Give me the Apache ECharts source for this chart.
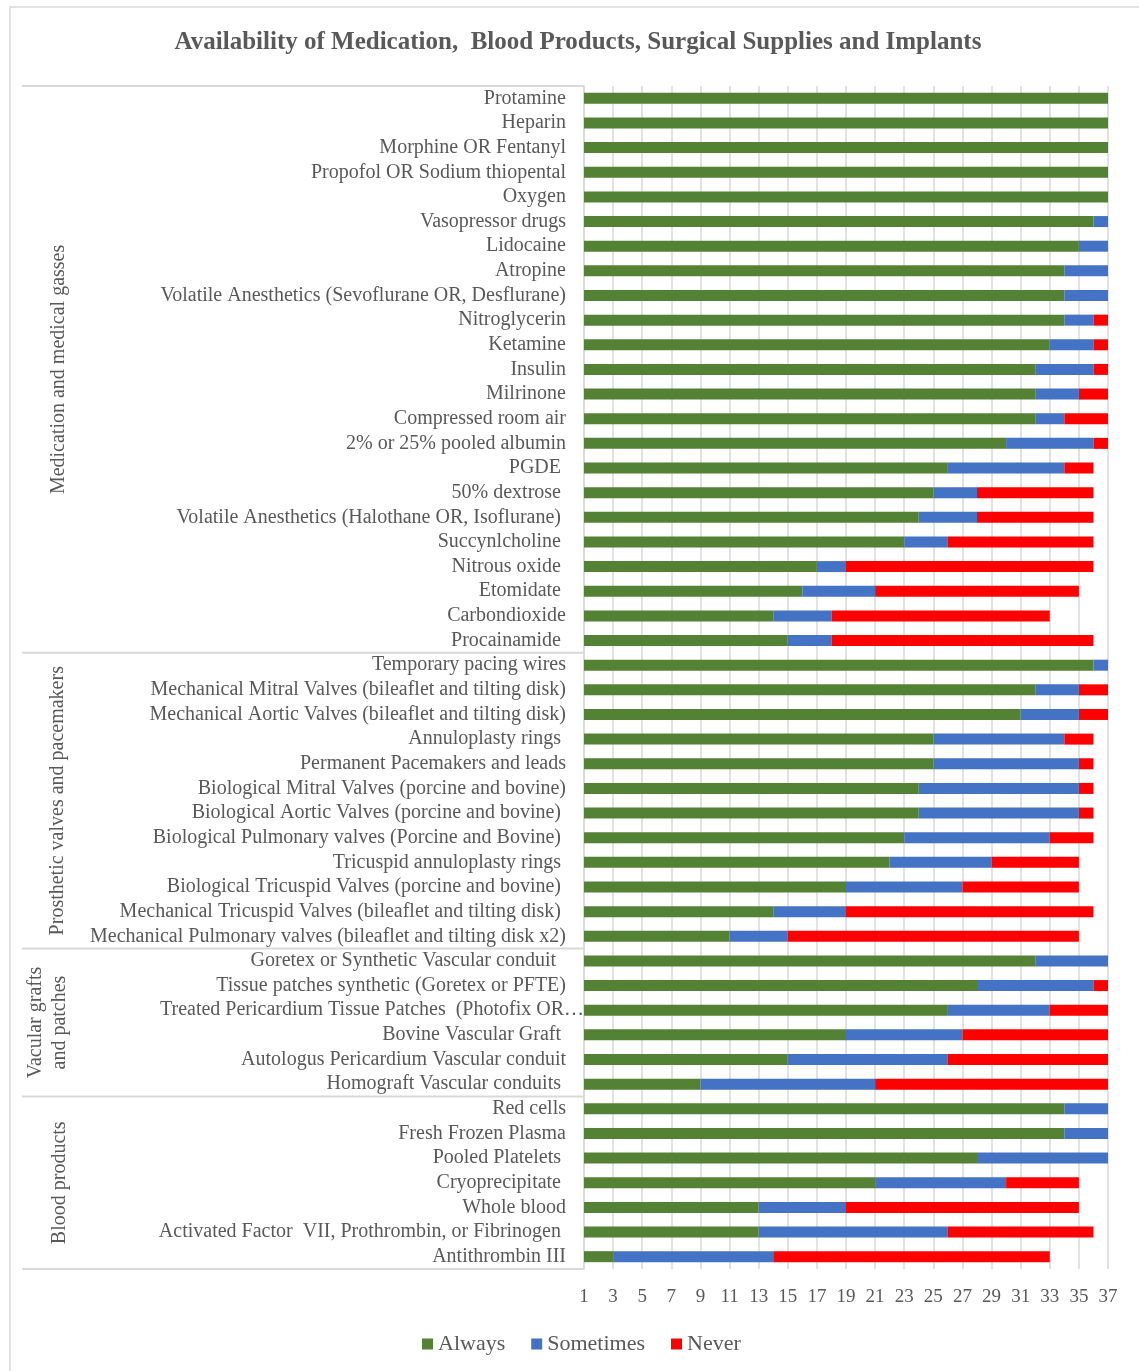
<!DOCTYPE html>
<html>
<head>
<meta charset="utf-8">
<script src="https://cdn.jsdelivr.net/npm/echarts@6/dist/echarts.min.js"></script>
<style>
html,body{margin:0;padding:0;background:#fff;}
#chart{width:1139px;height:1371px;}
</style>
</head>
<body>
<div id="chart"></div>
<script>
const categories = [
"Protamine","Heparin","Morphine OR Fentanyl","Propofol OR Sodium thiopental","Oxygen","Vasopressor drugs","Lidocaine","Atropine","Volatile Anesthetics (Sevoflurane OR, Desflurane)","Nitroglycerin","Ketamine","Insulin","Milrinone","Compressed room air","2% or 25% pooled albumin","PGDE ","50% dextrose ","Volatile Anesthetics (Halothane OR, Isoflurane) ","Succynlcholine ","Nitrous oxide ","Etomidate ","Carbondioxide","Procainamide ",
"Temporary pacing wires","Mechanical Mitral Valves (bileaflet and tilting disk)","Mechanical Aortic Valves (bileaflet and tilting disk)","Annuloplasty rings ","Permanent Pacemakers and leads","Biological Mitral Valves (porcine and bovine)","Biological Aortic Valves (porcine and bovine) ","Biological Pulmonary valves (Porcine and Bovine) ","Tricuspid annuloplasty rings ","Biological Tricuspid Valves (porcine and bovine) ","Mechanical Tricuspid Valves (bileaflet and tilting disk) ","Mechanical Pulmonary valves (bileaflet and tilting disk x2)",
"Goretex or Synthetic Vascular conduit  ","Tissue patches synthetic (Goretex or PFTE)","Treated Pericardium Tissue Patches  (Photofix OR…","Bovine Vascular Graft ","Autologus Pericardium Vascular conduit","Homograft Vascular conduits ",
"Red cells","Fresh Frozen Plasma","Pooled Platelets ","Cryoprecipitate ","Whole blood","Activated Factor  VII, Prothrombin, or Fibrinogen ","Antithrombin III"
];
const always = [37,37,37,37,37,36,35,34,34,34,33,32,32,32,30,26,25,24,23,17,16,14,15, 36,32,31,25,25,24,24,23,22,19,14,11, 32,28,26,19,15,9, 34,34,28,21,13,13,3];
const sometimes = [0,0,0,0,0,1,2,3,3,2,3,4,3,2,6,8,3,4,3,2,5,4,3, 1,3,4,9,10,11,11,10,7,8,5,4, 5,8,7,8,11,12, 3,3,9,9,6,13,11];
const never = [0,0,0,0,0,0,0,0,0,1,1,1,2,3,1,2,8,8,10,17,14,15,18, 0,2,2,2,1,1,1,3,6,8,17,20, 0,1,4,10,11,16, 0,0,0,5,16,10,19];
const groups = [
  {name:"Medication and medical gasses", start:0, end:23},
  {name:"Prosthetic valves and pacemakers", start:23, end:35},
  {name:"Vacular grafts\nand patches", start:35, end:41},
  {name:"Blood products", start:41, end:48}
];
const seriesNames = ["Always","Sometimes","Never"];
const xTicks = {min:1, max:37, interval:2};

const FONT = "'Times New Roman', 'Liberation Serif', serif";
const GRAY = "#595959";
const LINE = "#d9d9d9";
const colors = ["#548235","#4472C4","#FF0000"];
const truncatedLabel = "Treated Pericardium Tissue Patches  (Photofix OR…";

const chart = echarts.init(document.getElementById('chart'), null, {renderer:'canvas'});
const option = {
  animation:false,
  backgroundColor:'#fff',
  title:{
    text:"Availability of Medication,  Blood Products, Surgical Supplies and Implants",
    left:578, top:30, textAlign:'center', padding:0,
    textStyle:{fontFamily:FONT, fontSize:25, fontWeight:'bold', color:GRAY}
  },
  legend:{
    left:422, top:1333, padding:0,
    icon:'rect', itemWidth:11, itemHeight:11, itemGap:26,
    textStyle:{fontFamily:FONT, fontSize:22, color:GRAY},
    data:seriesNames
  },
  grid:{left:584, right:31, top:86, bottom:102, containLabel:false},
  xAxis:{
    type:'value', min:xTicks.min, max:xTicks.max, interval:xTicks.interval,
    axisLine:{show:false}, axisTick:{show:false},
    splitLine:{show:true, lineStyle:{color:LINE, width:1.5}},
    axisLabel:{fontFamily:FONT, fontSize:19, color:GRAY, margin:19}
  },
  yAxis:{
    type:'category', inverse:true, data:categories,
    axisLine:{show:true, lineStyle:{color:LINE, width:1.5}},
    axisTick:{show:false},
    axisLabel:{
      fontFamily:FONT, fontSize:20, color:GRAY, margin:18, interval:0,
      formatter: v => v === truncatedLabel ? '{t|' + v + '}' : v,
      rich:{t:{fontFamily:FONT, fontSize:20, color:GRAY, width:406, align:'left', overflow:'none'}}
    }
  },
  series:[
    {name:seriesNames[0], type:'bar', stack:'a', data:always, barWidth:11, itemStyle:{color:colors[0]}, clip:true},
    {name:seriesNames[1], type:'bar', stack:'a', data:sometimes, barWidth:11, itemStyle:{color:colors[1]}, clip:true},
    {name:seriesNames[2], type:'bar', stack:'a', data:never, barWidth:11, itemStyle:{color:colors[2]}, clip:true}
  ]
};
chart.setOption(option);

// Decorations derived from the axis geometry
const c0 = chart.convertToPixel({yAxisIndex:0}, 0);
const c1 = chart.convertToPixel({yAxisIndex:0}, 1);
const band = Math.abs(c1 - c0);
const bound = i => c0 - band/2 + i*band;
const axisX = chart.convertToPixel({xAxisIndex:0}, xTicks.min);
const elements = [];
elements.push({type:'rect', shape:{x:10, y:7, width:1200, height:1500}, style:{fill:'none', stroke:LINE, lineWidth:1.5}, silent:true});
const bounds = [0,23,35,41,48];
bounds.forEach(b => {
  elements.push({type:'line', shape:{x1:22, y1:bound(b), x2:axisX, y2:bound(b)}, style:{stroke:LINE, lineWidth:2}, silent:true});
});
const gx = [59, 58, 48, 60];
groups.forEach((g, k) => {
  const cy = (bound(g.start) + bound(g.end)) / 2;
  elements.push({type:'text', x:gx[k], y:cy, rotation:Math.PI/2,
    style:{text:g.name, fill:GRAY, font:"20px " + FONT, textAlign:'center', textVerticalAlign:'middle', lineHeight:24},
    silent:true});
});
chart.setOption({graphic:{elements:elements}});
</script>
</body>
</html>
